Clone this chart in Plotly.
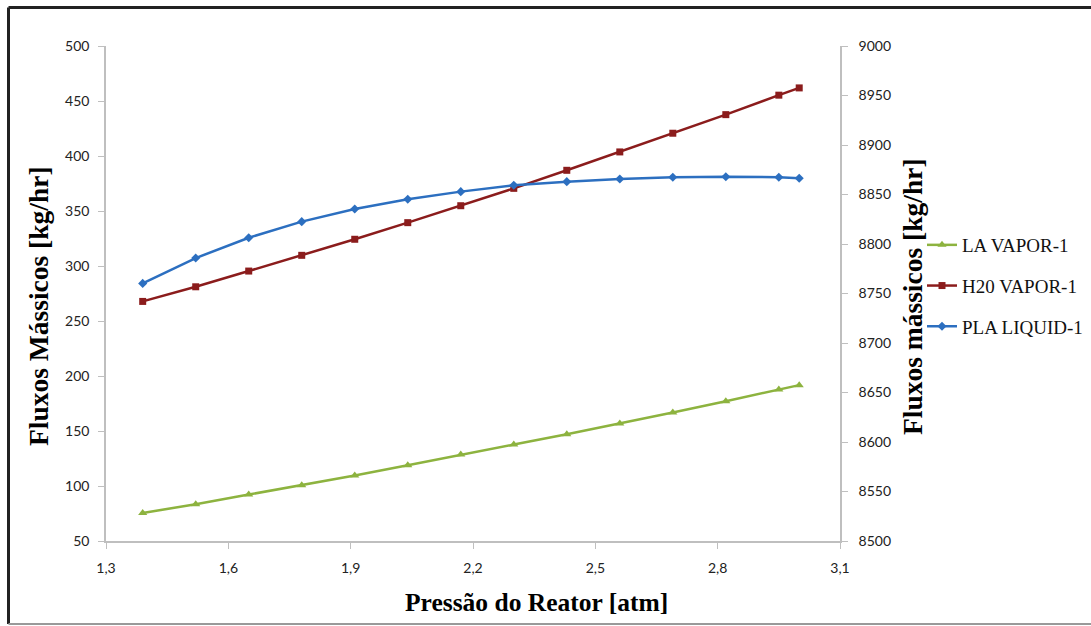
import plotly.graph_objects as go

pressure = [1.39, 1.52, 1.65, 1.78, 1.91, 2.04, 2.17, 2.30, 2.43, 2.56, 2.69, 2.82, 2.95, 3.00]
la_vapor = [75.5, 83.4, 92.2, 100.7, 109.5, 118.9, 128.6, 137.7, 147.1, 156.8, 166.8, 177.1, 187.8, 191.7]
h2o_vapor = [267.8, 281.1, 295.4, 309.7, 324.3, 339.4, 354.8, 370.6, 387.0, 403.7, 420.7, 437.6, 455.3, 461.9]
pla_liquid = [8760.2, 8785.8, 8806.3, 8822.6, 8835.3, 8845.2, 8852.9, 8859.3, 8863.0, 8865.7, 8867.4, 8868.0, 8867.4, 8866.4]

x_ticks = [1.3, 1.6, 1.9, 2.2, 2.5, 2.8, 3.1]
x_tick_text = ["1,3", "1,6", "1,9", "2,2", "2,5", "2,8", "3,1"]

GREEN = "#8DB33F"
RED = "#8B1C1C"
BLUE = "#2C6FC0"

fig = go.Figure()
fig.add_trace(go.Scatter(x=pressure, y=la_vapor, name="LA VAPOR-1", mode="lines+markers",
                         line=dict(color=GREEN, width=2.5),
                         marker=dict(symbol="triangle-up", size=8, color=GREEN),
                         legendgroup="a"))
fig.add_trace(go.Scatter(x=pressure, y=h2o_vapor, name="H20 VAPOR-1", mode="lines+markers",
                         line=dict(color=RED, width=2.5),
                         marker=dict(symbol="square", size=7, color=RED),
                         legendgroup="b"))
fig.add_trace(go.Scatter(x=pressure, y=pla_liquid, name="PLA LIQUID-1", mode="lines+markers",
                         line=dict(color=BLUE, width=2.5),
                         marker=dict(symbol="diamond", size=7, color=BLUE),
                         legendgroup="c", yaxis="y2"))

tickfont = dict(family="Lato, Liberation Sans, sans-serif", size=14, color="#222222")
axcol = "#BFBFBF"

fig.update_layout(
    width=1091, height=626,
    margin=dict(l=106, r=251, t=46, b=85, autoexpand=False),
    paper_bgcolor="white", plot_bgcolor="white",
    showlegend=True,
    xaxis=dict(range=[1.3, 3.1], tickvals=x_ticks, ticktext=x_tick_text,
               showgrid=False, zeroline=False, showline=True, linecolor=axcol, linewidth=1.5,
               ticks="outside", ticklen=6, tickcolor=axcol, tickfont=tickfont,
               ticklabelstandoff=7, automargin=False),
    yaxis=dict(range=[50, 500], dtick=50, showgrid=False, zeroline=False,
               showline=True, linecolor=axcol, linewidth=1.5,
               ticks="outside", ticklen=6, tickcolor=axcol, tickfont=tickfont,
               ticklabelstandoff=6, automargin=False),
    yaxis2=dict(range=[8500, 9000], dtick=50, overlaying="y", side="right",
                showgrid=False, zeroline=False, showline=True, linecolor=axcol, linewidth=1.5,
                ticks="outside", ticklen=6, tickcolor=axcol, tickfont=tickfont,
                ticklabelstandoff=8, automargin=False),
    legend=dict(x=(922 - 106) / 734, y=(541 - 286) / 495, xanchor="left", yanchor="middle",
                font=dict(family="Liberation Serif, Times New Roman, serif", size=19, color="#111111"),
                traceorder="grouped", tracegroupgap=13, bgcolor="rgba(0,0,0,0)", itemwidth=30),
)

title_font = dict(family="Liberation Serif, Times New Roman, serif", size=27.5, color="black")
fig.add_annotation(text="<b>Fluxos Mássicos [kg/hr]</b>", xref="paper", yref="paper",
                   x=(38 - 106) / 734, y=(541 - 306) / 495, textangle=-90, showarrow=False,
                   xanchor="center", yanchor="middle", font=title_font)
fig.add_annotation(text="<b>Fluxos mássicos [kg/hr]</b>", xref="paper", yref="paper",
                   x=(912 - 106) / 734, y=(541 - 296) / 495, textangle=-90, showarrow=False,
                   xanchor="center", yanchor="middle", font=title_font)
fig.add_annotation(text="<b>Pressão do Reator [atm]</b>", xref="paper", yref="paper",
                   x=(536 - 106) / 734, y=(541 - 602) / 495, showarrow=False,
                   xanchor="center", yanchor="middle", font=dict(family="Liberation Serif, Times New Roman, serif", size=25.5, color="black"))

# image frame
def px_x(p):
    return (p - 106) / 734

def px_y(p):
    return (541 - p) / 495

fig.add_shape(type="line", xref="paper", yref="paper", x0=px_x(8.5), x1=px_x(1091), y0=px_y(7.5), y1=px_y(7.5),
              line=dict(color="#222222", width=3))
fig.add_shape(type="line", xref="paper", yref="paper", x0=px_x(8.5), x1=px_x(8.5), y0=px_y(7.5), y1=px_y(624),
              line=dict(color="#222222", width=3))
fig.add_shape(type="line", xref="paper", yref="paper", x0=px_x(8.5), x1=px_x(1091), y0=px_y(624), y1=px_y(624),
              line=dict(color="#999999", width=2))

fig.write_html("out.html", config={"displayModeBar": False},
               post_script="document.body.style.margin='0';")
